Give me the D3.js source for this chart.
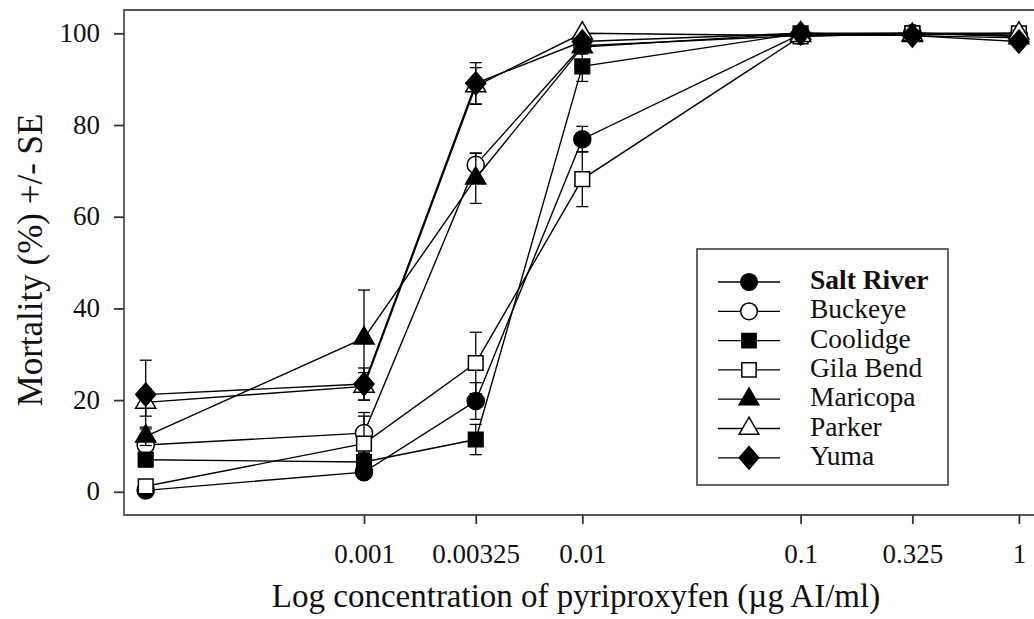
<!DOCTYPE html>
<html>
<head>
    <meta charset="utf-8">
    <title>Mortality vs pyriproxyfen concentration</title>
    <script src="https://d3js.org/d3.v7.min.js"></script>
    <style>
        body { margin: 0; background: #fff; }
        text { font-family: "Liberation Serif", "Times New Roman", serif; fill: #111; }
    </style>
</head>
<body>
<div id="chart"></div>
<script type="text/javascript">

    // concentrations (first one is the control, drawn at 0.0001 without label)
    let concentrations = [0.0001, 0.001, 0.00325, 0.01, 0.1, 0.325, 1];
    let xTickValues = [0.001, 0.00325, 0.01, 0.1, 0.325, 1];
    let xTickLabels = ["0.001", "0.00325", "0.01", "0.1", "0.325", "1"];
    let yTickValues = [0, 20, 40, 60, 80, 100];

    let populations = ["Salt River", "Buckeye", "Coolidge", "Gila Bend", "Maricopa", "Parker", "Yuma"];

    // mortality (%) per population
    let saltRiver = [0.3, 4.3, 19.8, 76.9, 99.8, 100, 99.3];
    let buckeye   = [10.2, 12.8, 71.3, 97.3, 99.5, 100, 99.5];
    let coolidge  = [7.0, 6.5, 11.4, 92.8, 100, 100, 99.5];
    let gilaBend  = [1.2, 10.5, 28.1, 68.2, 99.3, 100, 100];
    let maricopa  = [12.1, 33.5, 68.4, 97.0, 100, 99.5, 99.0];
    let parker    = [19.5, 23.0, 88.5, 100, 99.5, 99.7, 100];
    let yuma      = [21.2, 23.5, 89.1, 98.2, 100, 99.5, 98.2];

    // standard errors
    let seSaltRiver = [0.5, 1.0, 4.0, 2.8, 0, 0, 0.5];
    let seBuckeye   = [1.5, 4.5, 2.5, 1.0, 0.5, 0, 0.5];
    let seCoolidge  = [1.5, 2.0, 3.3, 3.3, 0, 0, 0.5];
    let seGilaBend  = [1.0, 6.0, 6.7, 6.0, 0.7, 0, 0];
    let seMaricopa  = [2.0, 10.5, 5.5, 1.5, 0, 0.5, 1.0];
    let seParker    = [3.0, 3.0, 4.0, 0, 0.5, 0, 0];
    let seYuma      = [7.5, 3.5, 4.5, 1.0, 0, 0.3, 1.0];

    let values = [saltRiver, buckeye, coolidge, gilaBend, maricopa, parker, yuma];
    let errors = [seSaltRiver, seBuckeye, seCoolidge, seGilaBend, seMaricopa, seParker, seYuma];

    // marker style per population
    let diamond = {
        draw: function(ctx, size) {
            let w = Math.sqrt(size / 2.3), h = w * 1.15;
            ctx.moveTo(0, -h); ctx.lineTo(w, 0); ctx.lineTo(0, h); ctx.lineTo(-w, 0); ctx.closePath();
        }
    };
    let shapes = [d3.symbolCircle, d3.symbolCircle, d3.symbolSquare, d3.symbolSquare,
                  d3.symbolTriangle, d3.symbolTriangle, diamond];
    let sizes = [230, 230, 215, 215, 175, 175, 230];
    let filled = [true, false, true, false, true, false, true];

    let width = 1034, height = 619;
    let frame = {left: 124, top: 10, bottom: 515, right: 1034};

    let svg = d3.select("#chart")
        .append("svg")
            .attr("width", width)
            .attr("height", height);

    let xScale = d3.scaleLog()
        .domain([0.0001, 1])
        .range([145.7, 1018.9]);

    let yScale = d3.scaleLinear()
        .domain([0, 100])
        .range([491.8, 33.3]);

    // frame (left, top, bottom)
    svg.append("path")
        .attr("d", "M" + frame.right + "," + frame.top + "H" + frame.left + "V" + frame.bottom + "H" + frame.right)
        .attr("fill", "none")
        .attr("stroke", "#555")
        .attr("stroke-width", 1.8);

    // axes
    let xAxis = d3.axisBottom(xScale)
        .tickValues(xTickValues)
        .tickFormat(function(d, i) { return xTickLabels[i]; })
        .tickSize(9)
        .tickPadding(20);

    let gx = svg.append("g")
        .attr("transform", "translate(0," + frame.bottom + ")")
        .call(xAxis);
    gx.select(".domain").remove();
    gx.selectAll("line").attr("stroke", "#333").attr("stroke-width", 1.8);
    gx.selectAll("text").attr("font-size", "27px").attr("fill", "#111");

    let yAxis = d3.axisLeft(yScale)
        .tickValues(yTickValues)
        .tickSize(10)
        .tickPadding(14);

    let gy = svg.append("g")
        .attr("transform", "translate(" + frame.left + ",0)")
        .call(yAxis);
    gy.select(".domain").remove();
    gy.selectAll("line").attr("stroke", "#333").attr("stroke-width", 1.8);
    gy.selectAll("text").attr("font-size", "27px").attr("fill", "#111").attr("dy", "0.3em");

    // axis titles
    svg.append("text")
        .attr("x", 576)
        .attr("y", 607)
        .attr("text-anchor", "middle")
        .attr("font-size", "33px")
        .text("Log concentration of pyriproxyfen (\u00b5g AI/ml)");

    svg.append("text")
        .attr("transform", "translate(42,260) rotate(-90)")
        .attr("text-anchor", "middle")
        .attr("font-size", "35px")
        .text("Mortality (%) +/- SE");

    // series
    let line = d3.line()
        .x(function(d) { return xScale(d.c); })
        .y(function(d) { return yScale(d.v); });

    populations.forEach(function(name, s) {
        let pts = concentrations.map(function(c, i) {
            return {c: c, v: values[s][i], se: errors[s][i]};
        });
        let g = svg.append("g");

        g.append("path")
            .datum(pts)
            .attr("d", line)
            .attr("fill", "none")
            .attr("stroke", "#000")
            .attr("stroke-width", 1.4);

        let eb = g.selectAll(".eb")
            .data(pts.filter(function(d) { return d.se > 0; }))
            .enter()
            .append("g");
        eb.append("line")
            .attr("x1", function(d) { return xScale(d.c); })
            .attr("x2", function(d) { return xScale(d.c); })
            .attr("y1", function(d) { return yScale(d.v - d.se); })
            .attr("y2", function(d) { return yScale(d.v + d.se); });
        eb.append("line")
            .attr("x1", function(d) { return xScale(d.c) - 6; })
            .attr("x2", function(d) { return xScale(d.c) + 6; })
            .attr("y1", function(d) { return yScale(d.v + d.se); })
            .attr("y2", function(d) { return yScale(d.v + d.se); });
        eb.append("line")
            .attr("x1", function(d) { return xScale(d.c) - 6; })
            .attr("x2", function(d) { return xScale(d.c) + 6; })
            .attr("y1", function(d) { return yScale(d.v - d.se); })
            .attr("y2", function(d) { return yScale(d.v - d.se); });
        eb.selectAll("line").attr("stroke", "#000").attr("stroke-width", 1.3);

        g.selectAll(".pt")
            .data(pts)
            .enter()
            .append("path")
            .attr("d", d3.symbol().type(shapes[s]).size(sizes[s]))
            .attr("transform", function(d) { return "translate(" + xScale(d.c) + "," + yScale(d.v) + ")"; })
            .attr("fill", filled[s] ? "#000" : "#fff")
            .attr("stroke", "#000")
            .attr("stroke-width", 1.5);
    });

    // legend
    let legend = svg.append("g");
    legend.append("rect")
        .attr("x", 697)
        .attr("y", 249)
        .attr("width", 251)
        .attr("height", 236)
        .attr("fill", "#fff")
        .attr("stroke", "#555")
        .attr("stroke-width", 1.8);

    populations.forEach(function(name, s) {
        let ly = 282 + s * 29.3;
        legend.append("line")
            .attr("x1", 718).attr("x2", 780)
            .attr("y1", ly).attr("y2", ly)
            .attr("stroke", "#000")
            .attr("stroke-width", 1.3);
        legend.append("path")
            .attr("d", d3.symbol().type(shapes[s]).size(sizes[s] * 0.95))
            .attr("transform", "translate(749," + ly + ")")
            .attr("fill", filled[s] ? "#000" : "#fff")
            .attr("stroke", "#000")
            .attr("stroke-width", 1.5);
        legend.append("text")
            .attr("x", 810)
            .attr("y", ly + 7)
            .attr("font-size", "27.5px")
            .attr("font-weight", s === 0 ? "bold" : "normal")
            .text(name);
    });

</script>
</body>
</html>
